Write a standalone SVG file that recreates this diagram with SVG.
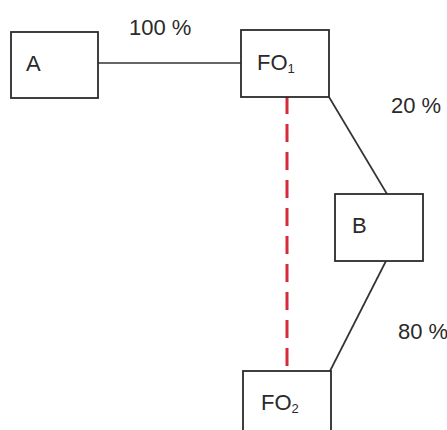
<svg xmlns="http://www.w3.org/2000/svg" width="447" height="430" viewBox="0 0 447 430">
<style>
.box{fill:#fff;stroke:#2b2b2b;stroke-width:1.8}
.ln{stroke:#333;stroke-width:1.7;fill:none}
.dash{stroke:#d42a3a;stroke-width:3;stroke-dasharray:18 10;fill:none}
text{font-family:"Liberation Sans","DejaVu Sans",sans-serif;fill:#2a2a2a;font-size:22px}
.sub{font-size:13px}
</style>
<rect width="447" height="430" fill="#fff"/>
<g id="connectors">
<line class="ln" x1="98" y1="63" x2="241" y2="63"/>
<line class="ln" x1="329" y1="97" x2="387" y2="194"/>
<line class="ln" x1="386" y1="261" x2="330" y2="371"/>
<line class="dash" x1="287" y1="96" x2="287" y2="371"/>
<text x="129" y="35">100 %</text>
<text x="391" y="113">20 %</text>
<text x="398" y="339">80 %</text>
</g>
<g id="nodeA">
<rect class="box" x="11" y="32" width="87" height="66"/>
<text x="26" y="71" font-size="23">A</text>
</g>
<g id="nodeFO1">
<rect class="box" x="241" y="30" width="88" height="67"/>
<text x="257" y="70">FO<tspan class="sub" dy="3">1</tspan></text>
</g>
<g id="nodeB">
<rect class="box" x="335" y="194" width="88" height="67"/>
<text x="352" y="233">B</text>
</g>
<g id="nodeFO2">
<rect class="box" x="243" y="371" width="88" height="80"/>
<text x="261" y="410">FO<tspan class="sub" dy="3">2</tspan></text>
</g>
</svg>
